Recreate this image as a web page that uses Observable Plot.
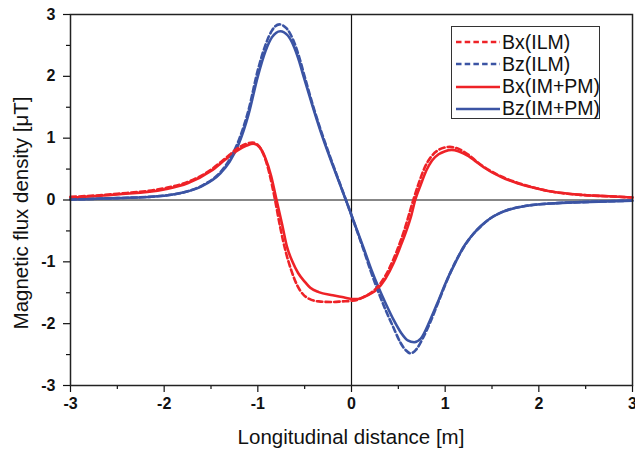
<!DOCTYPE html>
<html>
<head>
<meta charset="utf-8">
<script src="https://cdn.jsdelivr.net/npm/d3@7"></script>
<script src="https://cdn.jsdelivr.net/npm/@observablehq/plot@0.6"></script>
<style>
  html, body { margin: 0; padding: 0; background: #fff; }
  #wrap { position: relative; width: 635px; height: 450px; font-family: "Liberation Sans", Arial, sans-serif; }
  .title { position: absolute; font-size: 20.5px; color: #111; white-space: nowrap; line-height: 1; }
  #xtitle { left: 351px; top: 427px; transform: translateX(-50%); }
  #ytitle { left: 21px; top: 213px; transform: translate(-50%, -50%) rotate(-90deg); }
  #legend { position: absolute; left: 451px; top: 26px; width: 149px; height: 93px; border: 1px solid #333; background: #fff; box-sizing: border-box; }
  .row { position: absolute; left: 4px; height: 22px; display: flex; align-items: center; font-size: 19.5px; color: #111; white-space: nowrap; }
  .row svg { margin-right: 2px; }
</style>
</head>
<body>
<div id="wrap">
  <div id="chart"></div>
  <div id="legend"></div>
  <div class="title" id="xtitle">Longitudinal distance [m]</div>
  <div class="title" id="ytitle">Magnetic flux density [μT]</div>
</div>
<script>
const xTicks = [-3, -2, -1, 0, 1, 2, 3];
const yTicks = [-3, -2, -1, 0, 1, 2, 3];
const minorTicks = [-2.5, -1.5, -0.5, 0.5, 1.5, 2.5];

const seriesNames = ["Bx(ILM)", "Bz(ILM)", "Bx(IM+PM)", "Bz(IM+PM)"];
const seriesColors = ["#ee2227", "#3b54a4", "#ee2227", "#3b54a4"];
const seriesDash = ["5.5,3.2", "5.5,3.2", null, null];

// Bx(IM+PM)
const bxPmX = [-3, -2.5, -2, -1.75, -1.5, -1.35, -1.22, -1.12, -1.05, -0.98, -0.92, -0.86, -0.80, -0.74, -0.69, -0.63, -0.57, -0.5, -0.44, -0.35, -0.2, -0.1, 0, 0.07, 0.13, 0.2, 0.27, 0.36, 0.45, 0.52, 0.59, 0.64, 0.68, 0.74, 0.8, 0.86, 0.93, 1.0, 1.07, 1.14, 1.25, 1.33, 1.41, 1.6, 1.77, 2.0, 2.12, 2.48, 2.75, 3];
const bxPmY = [0.04, 0.09, 0.17, 0.27, 0.47, 0.65, 0.80, 0.88, 0.91, 0.85, 0.68, 0.40, 0.0, -0.40, -0.75, -1.0, -1.18, -1.32, -1.42, -1.49, -1.54, -1.57, -1.60, -1.60, -1.57, -1.52, -1.45, -1.28, -1.02, -0.76, -0.48, -0.24, 0.0, 0.25, 0.48, 0.64, 0.74, 0.79, 0.81, 0.79, 0.71, 0.62, 0.53, 0.37, 0.27, 0.18, 0.14, 0.08, 0.06, 0.04];

// Bx(ILM)
const bxIlmX = [-3, -2.5, -2, -1.75, -1.5, -1.35, -1.22, -1.12, -1.06, -1.0, -0.94, -0.88, -0.82, -0.76, -0.70, -0.64, -0.58, -0.52, -0.45, -0.35, -0.2, -0.1, 0, 0.07, 0.13, 0.2, 0.27, 0.36, 0.45, 0.52, 0.59, 0.63, 0.66, 0.72, 0.78, 0.85, 0.93, 1.0, 1.05, 1.12, 1.25, 1.33, 1.41, 1.6, 1.77, 2.0, 2.12, 2.48, 2.75, 3];
const bxIlmY = [0.05, 0.10, 0.19, 0.29, 0.49, 0.67, 0.83, 0.91, 0.93, 0.89, 0.74, 0.45, 0.03, -0.45, -0.85, -1.15, -1.38, -1.52, -1.60, -1.64, -1.65, -1.64, -1.63, -1.61, -1.57, -1.51, -1.42, -1.23, -0.95, -0.68, -0.36, -0.15, 0.0, 0.28, 0.52, 0.70, 0.81, 0.85, 0.86, 0.84, 0.73, 0.63, 0.54, 0.38, 0.28, 0.18, 0.14, 0.08, 0.06, 0.04];

// Bz(IM+PM)
const bzPmX = [-3, -2.5, -2, -1.8, -1.6, -1.4, -1.3, -1.2, -1.1, -1.0, -0.92, -0.85, -0.76, -0.68, -0.62, -0.56, -0.51, -0.41, -0.31, -0.2, -0.12, -0.05, 0.04, 0.13, 0.21, 0.29, 0.37, 0.45, 0.53, 0.6, 0.67, 0.74, 0.84, 0.93, 1.02, 1.1, 1.2, 1.3, 1.38, 1.48, 1.6, 1.84, 2.2, 2.55, 3];
const bzPmY = [0.01, 0.03, 0.07, 0.12, 0.22, 0.43, 0.62, 0.92, 1.38, 2.0, 2.40, 2.63, 2.73, 2.66, 2.50, 2.25, 1.99, 1.49, 1.02, 0.56, 0.24, -0.04, -0.41, -0.78, -1.12, -1.42, -1.69, -1.94, -2.15, -2.27, -2.30, -2.24, -1.94, -1.62, -1.29, -1.04, -0.75, -0.55, -0.42, -0.30, -0.20, -0.10, -0.05, -0.03, -0.01];

// Bz(ILM)
const bzIlmX = [-3, -2.5, -2, -1.8, -1.6, -1.4, -1.3, -1.2, -1.1, -1.0, -0.92, -0.85, -0.77, -0.69, -0.62, -0.56, -0.51, -0.41, -0.31, -0.2, -0.12, -0.05, 0.04, 0.13, 0.21, 0.29, 0.37, 0.45, 0.52, 0.58, 0.63, 0.69, 0.76, 0.84, 0.93, 1.02, 1.1, 1.2, 1.3, 1.38, 1.48, 1.6, 1.84, 2.2, 2.55, 3];
const bzIlmY = [0.01, 0.03, 0.07, 0.12, 0.23, 0.45, 0.66, 0.98, 1.45, 2.10, 2.50, 2.74, 2.84, 2.77, 2.58, 2.32, 2.05, 1.52, 1.05, 0.58, 0.25, -0.04, -0.42, -0.81, -1.17, -1.50, -1.80, -2.07, -2.30, -2.43, -2.48, -2.42, -2.24, -1.98, -1.64, -1.30, -1.03, -0.76, -0.55, -0.43, -0.30, -0.20, -0.10, -0.05, -0.03, -0.01];

const seriesX = [bxIlmX, bzIlmX, bxPmX, bzPmX];
const seriesY = [bxIlmY, bzIlmY, bxPmY, bzPmY];

const lineMarks = [];
for (let i = 3; i >= 0; i--) {
  const data = seriesX[i].map((x, j) => ({x, y: seriesY[i][j]}));
  const opts = {x: "x", y: "y", stroke: seriesColors[i], strokeWidth: 2.6, curve: "monotone-x"};
  if (seriesDash[i]) opts.strokeDasharray = seriesDash[i];
  lineMarks.push(Plot.line(data, opts));
}

const fmt = d => d < 0 ? "-" + Math.abs(d) : String(d);

const chart = Plot.plot({
  width: 635,
  height: 450,
  marginLeft: 70,
  marginRight: 3,
  marginTop: 14,
  marginBottom: 65,
  style: {fontFamily: "'Liberation Sans', Arial, sans-serif", background: "white", color: "#111"},
  x: {domain: [-3, 3]},
  y: {domain: [-3, 3]},
  marks: [
    Plot.ruleX([0], {stroke: "#111", strokeWidth: 1.2}),
    Plot.ruleY([0], {stroke: "#111", strokeWidth: 1.2}),
    ...lineMarks,
    Plot.axisX(minorTicks, {tickSize: 4, text: null, label: null, stroke: "#111", strokeWidth: 1.2}),
    Plot.axisY(minorTicks, {tickSize: 4, text: null, label: null, stroke: "#111", strokeWidth: 1.2}),
    Plot.axisX(xTicks, {tickSize: 7, tickPadding: 5, label: null, fontSize: 16, fontWeight: "bold", stroke: "#111", strokeWidth: 1.2, tickFormat: fmt}),
    Plot.axisY(yTicks, {tickSize: 7, tickPadding: 8, label: null, fontSize: 16, fontWeight: "bold", stroke: "#111", strokeWidth: 1.2, tickFormat: fmt}),
    Plot.frame({stroke: "#222", strokeWidth: 1.5})
  ]
});
document.getElementById("chart").appendChild(chart);

// legend
const legend = document.getElementById("legend");
seriesNames.forEach((name, i) => {
  const row = document.createElement("div");
  row.className = "row";
  row.style.top = (4 + i * 22.3) + "px";
  const dash = seriesDash[i] ? ` stroke-dasharray="${seriesDash[i]}"` : "";
  row.innerHTML = `<svg width="44" height="10"><line x1="0" y1="5" x2="44" y2="5" stroke="${seriesColors[i]}" stroke-width="2.6"${dash}/></svg><span>${name}</span>`;
  legend.appendChild(row);
});
</script>
</body>
</html>
